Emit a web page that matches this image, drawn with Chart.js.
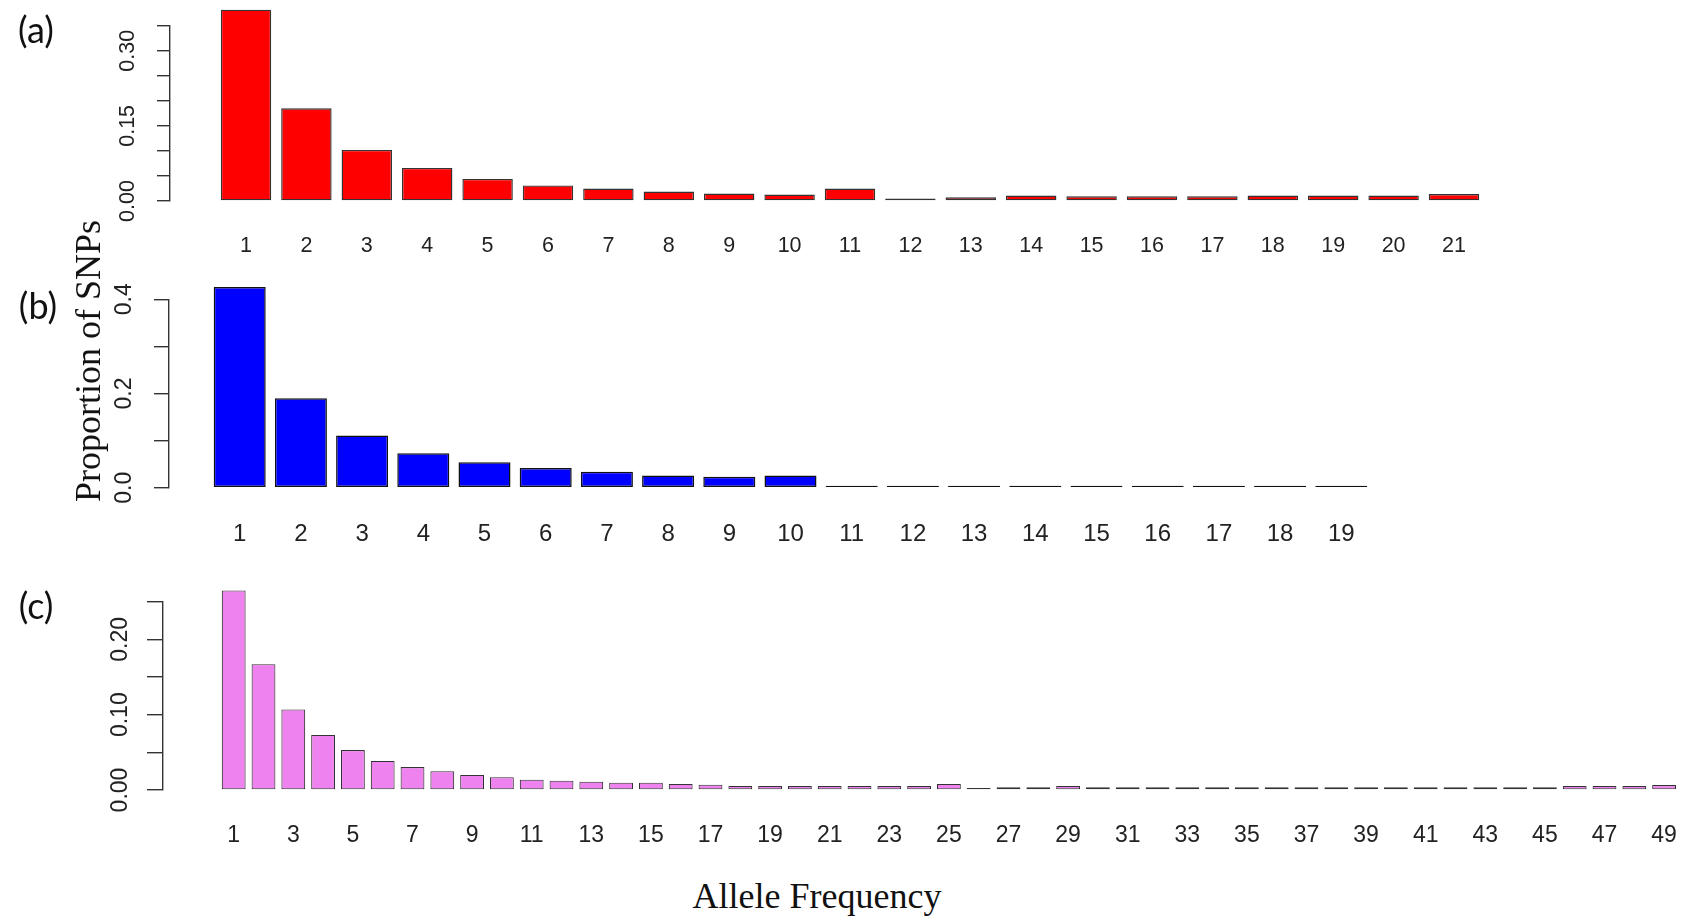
<!DOCTYPE html>
<html>
<head>
<meta charset="utf-8">
<script src="https://cdn.jsdelivr.net/npm/chart.js@4.4.0/dist/chart.umd.min.js"></script>
<style>
  body { margin: 0; background: #fff; width: 1689px; height: 920px; position: relative; overflow: hidden; }
  canvas { position: absolute; left: 0; }
  .tag { position: absolute; font-family: Lato, "Open Sans", sans-serif; font-size: 36px; color: #111; line-height: 1; transform: translate(-50%, -50%); }
  .title { position: absolute; font-family: "Liberation Serif", "Times New Roman", serif; font-size: 36px; color: #111; white-space: nowrap; line-height: 1; }
</style>
</head>
<body>
<canvas id="chartA" width="1689" height="275" style="top:0px"></canvas>
<canvas id="chartB" width="1689" height="300" style="top:260px"></canvas>
<canvas id="chartC" width="1689" height="300" style="top:560px"></canvas>

<div class="tag" style="left:36px;top:29px">(a)</div>
<div class="tag" style="left:38px;top:305px">(b)</div>
<div class="tag" style="left:36px;top:605px">(c)</div>
<div class="title" style="left:88px;top:361px;transform:translate(-50%,-50%) rotate(-90deg)">Proportion of SNPs</div>
<div class="title" style="left:817px;top:896px;transform:translate(-50%,-50%)">Allele Frequency</div>

<script>
// dados
const categoriasA = [1, 2, 3, 4, 5, 6, 7, 8, 9, 10, 11, 12, 13, 14, 15, 16, 17, 18, 19, 20, 21];
const valoresA = [0.382, 0.185, 0.102, 0.066, 0.044, 0.031, 0.025, 0.019, 0.015, 0.013, 0.025,
  0.005, 0.0075, 0.011, 0.0095, 0.0095, 0.0095, 0.011, 0.011, 0.011, 0.014];
const rotulosXA = categoriasA;
const rotulosYA = [0, 0.15, 0.30];

const categoriasB = [1, 2, 3, 4, 5, 6, 7, 8, 9, 10, 11, 12, 13, 14, 15, 16, 17, 18, 19];
const valoresB = [0.426, 0.190, 0.111, 0.073, 0.054, 0.042, 0.034, 0.026, 0.023, 0.026,
  0, 0, 0, 0, 0, 0, 0, 0, 0];
const rotulosXB = categoriasB;
const rotulosYB = [0, 0.2, 0.4];

const categoriasC = [1, 2, 3, 4, 5, 6, 7, 8, 9, 10, 11, 12, 13, 14, 15, 16, 17, 18, 19, 20,
  21, 22, 23, 24, 25, 26, 27, 28, 29, 30, 31, 32, 33, 34, 35, 36, 37, 38, 39, 40,
  41, 42, 43, 44, 45, 46, 47, 48, 49];
const valoresC = [0.265, 0.167, 0.107, 0.073, 0.053, 0.0385, 0.0305, 0.025, 0.020, 0.017,
  0.0137, 0.0124, 0.011, 0.0097, 0.0097, 0.008, 0.007, 0.0053, 0.0053, 0.0053,
  0.0053, 0.0053, 0.0053, 0.0053, 0.008, 0.002, 0.0036, 0.0036, 0.0053, 0.0036,
  0.0036, 0.0036, 0.0036, 0.0036, 0.0036, 0.0036, 0.0036, 0.0036, 0.0036, 0.0036,
  0.0036, 0.0036, 0.0036, 0.0036, 0.0036, 0.0053, 0.0053, 0.0053, 0.0065];
const rotulosXC = [1, 3, 5, 7, 9, 11, 13, 15, 17, 19, 21, 23, 25, 27, 29, 31, 33, 35, 37, 39,
  41, 43, 45, 47, 49];
const rotulosYC = [0, 0.10, 0.20];

const fonte = '"Liberation Sans", Arial, sans-serif';

// rotulos do eixo y girados, como no R
const rotuloY = {
  id: "rotuloY",
  afterDraw(chart, args, opts) {
    const y = chart.scales.y;
    const ctx = chart.ctx;
    ctx.save();
    ctx.font = opts.size + "px " + fonte;
    ctx.fillStyle = "#222";
    ctx.textAlign = "center";
    ctx.textBaseline = "middle";
    y.ticks.forEach(function (t) {
      if (!t.label) return;
      ctx.save();
      ctx.translate(opts.x, y.getPixelForValue(t.value));
      ctx.rotate(-Math.PI / 2);
      ctx.fillText(t.label, 0, 0);
      ctx.restore();
    });
    ctx.restore();
  },
};

function montarGrafico(id, c) {
  const min = c.cats[0] - (c.centro - c.eixo) / c.passo;
  const max = min + (c.direita - c.eixo) / c.passo;
  const canvas = document.getElementById(id);

  new Chart(canvas, {
    type: "bar",
    data: {
      datasets: [
        {
          data: c.cats.map((x, i) => ({ x: x, y: c.vals[i] })),
          backgroundColor: c.cor,
          borderColor: c.borda,
          borderWidth: c.linha,
          borderSkipped: false,
          barPercentage: c.barra,
          categoryPercentage: 1,
          minBarLength: c.minimo || 0,
          clip: false,
        },
      ],
    },
    options: {
      responsive: false,
      animation: false,
      layout: { padding: { top: c.topo, left: 0, right: canvas.width - c.direita, bottom: 0 } },
      plugins: {
        legend: { display: false },
        tooltip: { enabled: false },
        rotuloY: { x: c.rotX, size: c.fonteY },
      },
      scales: {
        x: {
          type: "linear",
          offset: false,
          min: min,
          max: max,
          afterBuildTicks: function (s) {
            s.ticks = c.rotulosX.map((v) => ({ value: v }));
          },
          afterFit: function (s) {
            s.height = canvas.height - c.base;
            s.paddingLeft = 0;
            s.paddingRight = 0;
          },
          grid: { display: false, offset: false },
          border: { display: false },
          ticks: {
            autoSkip: false,
            maxRotation: 0,
            padding: c.padX,
            color: "#222",
            font: { family: fonte, size: c.fonteX },
            callback: (v) => String(v),
          },
        },
        y: {
          min: 0,
          max: c.yMax,
          afterFit: function (s) {
            s.width = c.eixo;
          },
          ticks: {
            display: false,
            stepSize: c.passoY,
            callback: function (v) {
              const r = c.rotulosY.find((t) => Math.abs(t - v) < 1e-9);
              return r === undefined ? "" : r.toFixed(c.casas);
            },
          },
          grid: { drawOnChartArea: false, drawTicks: true, tickLength: c.traco, color: "#333", lineWidth: 1.4 },
          border: { display: true, color: "#333", width: 1.4 },
        },
      },
    },
    plugins: [rotuloY],
  });
}

montarGrafico("chartA", {
  cats: categoriasA, vals: valoresA, rotulosX: rotulosXA, rotulosY: rotulosYA,
  cor: "#ff0000", borda: "#333333", barra: 0.835, linha: 1.4,
  eixo: 170, centro: 246, passo: 60.4, direita: 1490,
  topo: 25.7, base: 201, yMax: 0.35, passoY: 0.05, casas: 2, traco: 13,
  rotX: 128, fonteY: 21.5, fonteX: 21.5, padX: 24,
});

montarGrafico("chartB", {
  cats: categoriasB, vals: valoresB, rotulosX: rotulosXB, rotulosY: rotulosYB,
  cor: "#0000ff", borda: "#111111", barra: 0.85, linha: 1.5, minimo: 2,
  eixo: 169, centro: 239.7, passo: 61.2, direita: 1380,
  topo: 39.3, base: 227.7, yMax: 0.4, passoY: 0.1, casas: 1, traco: 15,
  rotX: 124.5, fonteY: 23, fonteX: 24, padX: 24,
});

montarGrafico("chartC", {
  cats: categoriasC, vals: valoresC, rotulosX: rotulosXC, rotulosY: rotulosYC,
  cor: "#ee82ee", borda: "#333333", barra: 0.8, linha: 1.1, minimo: 2,
  eixo: 163, centro: 233.7, passo: 29.8, direita: 1685,
  topo: 41.7, base: 230, yMax: 0.25, passoY: 0.05, casas: 2, traco: 16,
  rotX: 121, fonteY: 23, fonteX: 23, padX: 24,
});
</script>
</body>
</html>
